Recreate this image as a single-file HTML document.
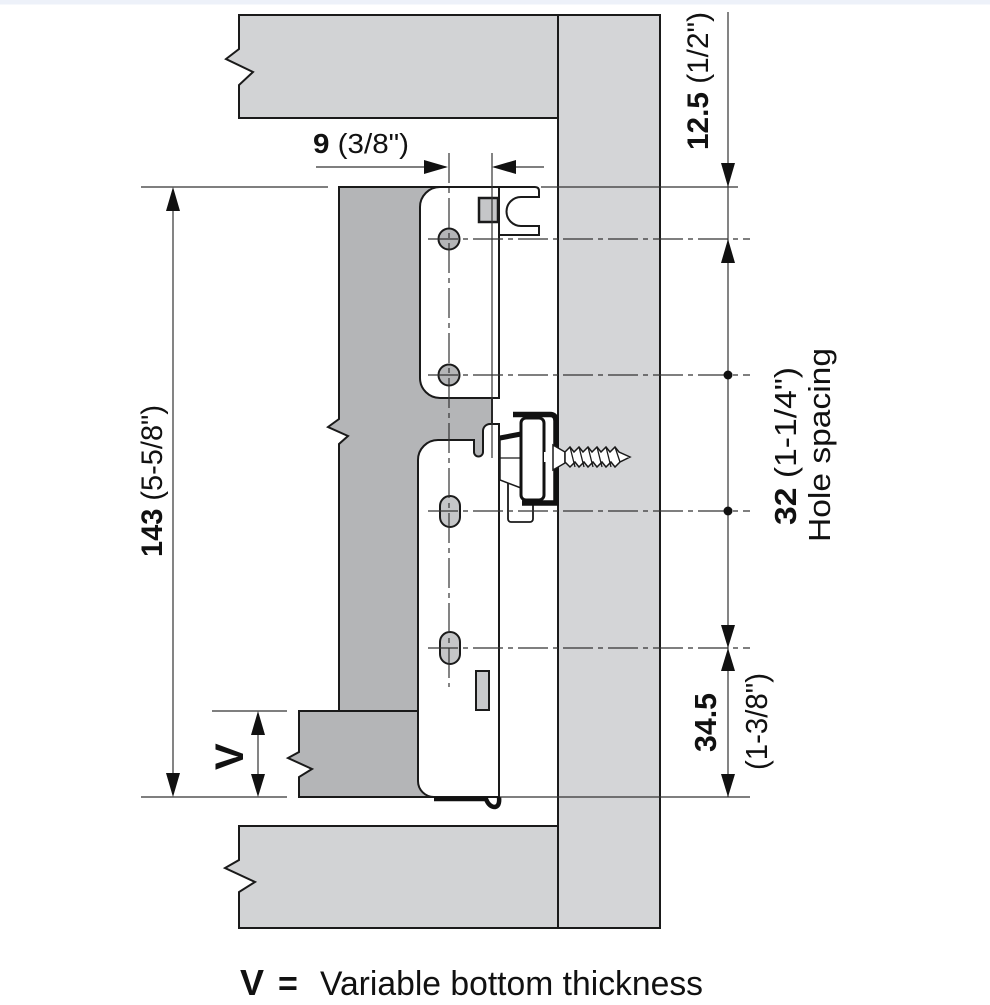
<!DOCTYPE html>
<html><head><meta charset="utf-8"><style>
html,body{margin:0;padding:0;background:#fff;}
svg{display:block;}
text{font-family:"Liberation Sans",Arial,sans-serif;fill:#111;}
</style></head><body>
<svg width="990" height="1005" viewBox="0 0 990 1005" xmlns="http://www.w3.org/2000/svg">
<rect x="0" y="0" width="990" height="1005" fill="#fff"/>
<rect x="0" y="0" width="990" height="4.5" fill="#edf1f9"/>

<!-- cabinet top panel -->
<path d="M239,15 H558 V118 H239 V85 L253,72 L226,59 L239,49 Z" fill="#d2d3d5" stroke="#1a1a1a" stroke-width="2"/>
<!-- cabinet side panel -->
<rect x="558" y="15" width="102" height="913" fill="#d4d5d7" stroke="#1a1a1a" stroke-width="2"/>
<!-- cabinet bottom panel -->
<path d="M239,826 H558 V928 H239 V892 L255,882 L225,868 L239,860 Z" fill="#d2d3d5" stroke="#1a1a1a" stroke-width="2"/>

<!-- drawer side + drawer bottom -->
<path d="M339,187 H492 V797 H299 V777 L312,769 L288,758 L299,752 V711 H339 V444 L348,436 L328,427 L339,419 Z" fill="#b4b5b7" stroke="#1a1a1a" stroke-width="2"/>
<line x1="299" y1="711" x2="420" y2="711" stroke="#1a1a1a" stroke-width="2"/>

<!-- top bracket -->
<path d="M499,187 H535 Q539,187 539,191 V197 H521 A14.5,14.5 0 0 0 521,226 H539 V235 H499" fill="#fff" stroke="#1a1a1a" stroke-width="2"/>
<path d="M440,187 H499 V398 H440 A20,20 0 0 1 420,378 V207 A20,20 0 0 1 440,187 Z" fill="#fff" stroke="#1a1a1a" stroke-width="2"/>
<rect x="479" y="198" width="19" height="24" fill="#c5c6c8" stroke="#1a1a1a" stroke-width="2.5"/>
<circle cx="449" cy="239" r="10.5" fill="#b4b5b7" stroke="#1a1a1a" stroke-width="2"/>
<circle cx="449" cy="375" r="10.5" fill="#b4b5b7" stroke="#1a1a1a" stroke-width="2"/>

<!-- bottom bracket -->
<path d="M438,440 H474 V452 A4.5,4.5 0 0 0 483,452 V431 A7,7 0 0 1 490,424 H499 V797 H434 A16,16 0 0 1 418,781 V460 A20,20 0 0 1 438,440 Z" fill="#fff" stroke="#1a1a1a" stroke-width="2"/>
<rect x="440" y="496" width="20" height="31" rx="10" fill="#c5c6c8" stroke="#1a1a1a" stroke-width="2"/>
<rect x="440" y="632" width="20" height="32" rx="10" fill="#c5c6c8" stroke="#1a1a1a" stroke-width="2"/>
<rect x="476" y="671" width="13" height="39" fill="#c8c9cb" stroke="#1a1a1a" stroke-width="2"/>
<path d="M434,799 H486 Q489,807 495,807 Q500,806 499,797" fill="none" stroke="#111" stroke-width="4.5"/>

<!-- runner mechanism -->
<rect x="508" y="477" width="25" height="45" rx="3" fill="#fff" stroke="#1a1a1a" stroke-width="1.8"/>
<polygon points="500,438 521,433 521,488 500,480" fill="#fff" stroke="#1a1a1a" stroke-width="1.5"/>
<line x1="500" y1="438" x2="521" y2="434" stroke="#111" stroke-width="5"/>
<line x1="500" y1="458" x2="521" y2="458" stroke="#1a1a1a" stroke-width="1.2"/>
<path d="M513,414.5 H550 Q556,414.5 556,421 V503 H522" fill="none" stroke="#111" stroke-width="5.5"/>
<rect x="521" y="418" width="23" height="82" rx="5" fill="#fff" stroke="#111" stroke-width="3"/>
<rect x="544" y="452" width="10" height="10" fill="#fff"/>
<polygon points="553,445 565,452 565,463 553,470" fill="#fff" stroke="#1a1a1a" stroke-width="1.5"/>
<path d="M565,452 L570,447 L574,452 L579,447 L583,452 L588,447 L592,452 L597,447 L601,452 L606,447 L610,452 L615,447 L619,452 L630,457 L620,462 L615,467 L611,462 L606,467 L602,462 L597,467 L593,462 L588,467 L584,462 L579,467 L575,462 L570,467 L565,462 Z" fill="#fff" stroke="#1a1a1a" stroke-width="1.5"/>
<g stroke="#1a1a1a" stroke-width="1.3">
<line x1="570" y1="447" x2="575" y2="467"/>
<line x1="579" y1="447" x2="584" y2="467"/>
<line x1="588" y1="447" x2="593" y2="467"/>
<line x1="597" y1="447" x2="602" y2="467"/>
<line x1="606" y1="447" x2="611" y2="467"/>
<line x1="615" y1="447" x2="620" y2="462"/>
</g>

<!-- center / extension lines -->
<g stroke="#333" stroke-width="1.2" fill="none">
<line x1="449" y1="153" x2="449" y2="687" stroke-dasharray="30 5 5 5"/>
<line x1="492" y1="153" x2="492" y2="458"/>
<line x1="428" y1="239" x2="750" y2="239" stroke-dasharray="30 5 5 5"/>
<line x1="428" y1="375" x2="750" y2="375" stroke-dasharray="30 5 5 5"/>
<line x1="428" y1="511" x2="750" y2="511" stroke-dasharray="30 5 5 5"/>
<line x1="428" y1="648" x2="750" y2="648" stroke-dasharray="30 5 5 5"/>
<line x1="541" y1="187" x2="738" y2="187"/>
<line x1="500" y1="797" x2="750" y2="797"/>
<line x1="141" y1="187" x2="328" y2="187"/>
<line x1="212" y1="711" x2="287" y2="711"/>
<line x1="141" y1="797" x2="287" y2="797"/>
<!-- dimension lines -->
<line x1="173" y1="190" x2="173" y2="794"/>
<line x1="258" y1="714" x2="258" y2="794"/>
<line x1="316" y1="167" x2="446" y2="167"/>
<line x1="494" y1="167" x2="544" y2="167"/>
<line x1="728" y1="12" x2="728" y2="797"/>
</g>

<!-- arrowheads -->
<g fill="#111">
<polygon points="173,187 166,211 180,211"/>
<polygon points="173,797 166,773 180,773"/>
<polygon points="258,711 251,735 265,735"/>
<polygon points="258,797 251,774 265,774"/>
<polygon points="448,167 424,160 424,174"/>
<polygon points="492,167 516,160 516,174"/>
<polygon points="728,187 721,163 735,163"/>
<polygon points="728,239 721,263 735,263"/>
<polygon points="728,648 721,625 735,625"/>
<polygon points="728,648 721,671 735,671"/>
<polygon points="728,797 721,774 735,774"/>
<circle cx="728" cy="375" r="4.5"/>
<circle cx="728" cy="511" r="4.5"/>
</g>

<!-- labels -->
<text x="313" y="153" font-size="28" textLength="96" lengthAdjust="spacingAndGlyphs"><tspan font-weight="bold">9</tspan> (3/8")</text>
<text transform="translate(708,150) rotate(-90)" font-size="30" textLength="138" lengthAdjust="spacingAndGlyphs"><tspan font-weight="bold">12.5</tspan> (1/2")</text>
<text transform="translate(796,525) rotate(-90)" font-size="31" textLength="158" lengthAdjust="spacingAndGlyphs"><tspan font-weight="bold">32</tspan> (1-1/4")</text>
<text transform="translate(830,542) rotate(-90)" font-size="31" textLength="194" lengthAdjust="spacingAndGlyphs">Hole spacing</text>
<text transform="translate(716,752) rotate(-90)" font-size="31" font-weight="bold" textLength="59" lengthAdjust="spacingAndGlyphs">34.5</text>
<text transform="translate(767,770) rotate(-90)" font-size="31" textLength="97" lengthAdjust="spacingAndGlyphs">(1-3/8")</text>
<text transform="translate(162,557) rotate(-90)" font-size="30" textLength="152" lengthAdjust="spacingAndGlyphs"><tspan font-weight="bold">143</tspan> (5-5/8")</text>
<text transform="translate(243,770) rotate(-90)" font-size="40" font-weight="bold">V</text>

<text x="240" y="995" font-size="36" font-weight="bold">V</text>
<text x="278" y="995" font-size="34" font-weight="bold">=</text>
<text x="320" y="995" font-size="34" textLength="383" lengthAdjust="spacingAndGlyphs">Variable bottom thickness</text>
</svg>
</body></html>
